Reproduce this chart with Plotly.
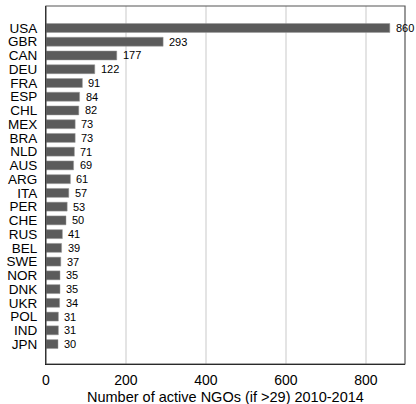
import plotly.graph_objects as go

countries = ["USA", "GBR", "CAN", "DEU", "FRA", "ESP", "CHL", "MEX", "BRA", "NLD", "AUS", "ARG",
             "ITA", "PER", "CHE", "RUS", "BEL", "SWE", "NOR", "DNK", "UKR", "POL", "IND", "JPN"]
values = [860, 293, 177, 122, 91, 84, 82, 73, 73, 71, 69, 61,
          57, 53, 50, 41, 39, 37, 35, 35, 34, 31, 31, 30]
x_ticks = [0, 200, 400, 600, 800]
x_title = "Number of active NGOs (if >29) 2010-2014"

FONT = "Liberation Sans, Arial, sans-serif"
BAR = "#5b5b5b"

fig = go.Figure()
fig.add_trace(go.Bar(
    x=values, y=countries, orientation="h",
    marker=dict(color=BAR, line=dict(color="#9a9a9a", width=0.5)),
    width=0.65, hoverinfo="skip",
))

annotations = [dict(x=v, y=c, xref="x", yref="y", text=str(v), showarrow=False,
                    xanchor="left", yanchor="middle", xshift=4, yshift=0,
                    font=dict(family=FONT, size=11, color="black"))
               for c, v in zip(countries, values)]
annotations.append(dict(x=0.5, y=0, xref="paper", yref="paper", text=x_title,
                        showarrow=False, xanchor="center", yanchor="top", yshift=-23,
                        font=dict(family=FONT, size=14.5, color="black")))

n = len(countries)
fig.update_layout(
    width=416, height=404,
    margin=dict(l=46, r=11, t=6, b=40),
    paper_bgcolor="white", plot_bgcolor="white",
    showlegend=False,
    font=dict(family=FONT, color="black"),
    xaxis=dict(
        range=[0, 898], tickmode="array", tickvals=x_ticks, ticktext=[str(t) for t in x_ticks],
        showgrid=True, gridcolor="#e4e4e4", gridwidth=1.5,
        showline=True, linecolor="black", linewidth=1.2,
        ticks="", ticklabelstandoff=3,
        tickfont=dict(size=14), zeroline=False, automargin=False,
    ),
    yaxis=dict(
        range=[n - 1 + 1.45, -1.6],
        tickmode="array", tickvals=countries, ticktext=countries,
        showgrid=False, showline=True, linecolor="black", linewidth=1.2,
        ticks="", tickfont=dict(size=13.5), ticklabelstandoff=5,
        zeroline=False, automargin=False,
    ),
    annotations=annotations,
    shapes=[dict(type="rect", xref="paper", yref="paper", x0=0, x1=1, y0=0, y1=1,
                 line=dict(color="#555555", width=1.2), layer="above")],
)
fig.write_html("out.html", config={"displayModeBar": False},
               post_script="document.body.style.margin='0';")
